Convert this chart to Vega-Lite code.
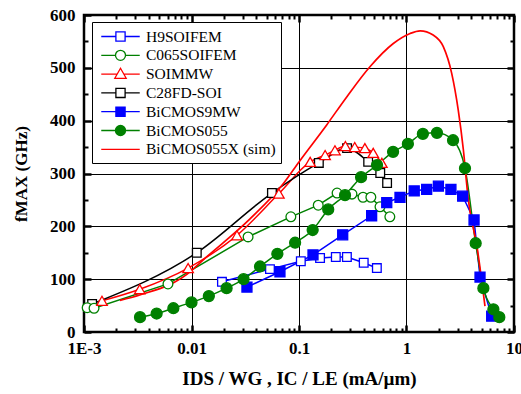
{
  "$schema": "https://vega.github.io/schema/vega-lite/v6.json",
  "width": 430,
  "height": 317,
  "autosize": {"type": "none"},
  "padding": {"left": 84, "top": 15, "right": 7, "bottom": 62},
  "background": "white",
  "config": {
    "view": {"stroke": "black", "strokeWidth": 2.5},
    "axis": {
      "labelFont": "Liberation Serif", "labelFontWeight": "bold", "labelFontSize": 17, "labelColor": "black",
      "titleFont": "Liberation Serif", "titleFontWeight": "bold", "titleColor": "black",
      "tickColor": "black", "gridColor": "black", "domain": false
    }
  },
  "datasets": {
    "pts": [
      {"series": "H9SOIFEM", "x": 0.0192, "y": 95},
      {"series": "H9SOIFEM", "x": 0.0537, "y": 119},
      {"series": "H9SOIFEM", "x": 0.104, "y": 134},
      {"series": "H9SOIFEM", "x": 0.157, "y": 140},
      {"series": "H9SOIFEM", "x": 0.22, "y": 142},
      {"series": "H9SOIFEM", "x": 0.279, "y": 142},
      {"series": "H9SOIFEM", "x": 0.40, "y": 131},
      {"series": "H9SOIFEM", "x": 0.53, "y": 121},
      {"series": "C065SOIFEM", "x": 0.00107, "y": 46},
      {"series": "C065SOIFEM", "x": 0.00124, "y": 45},
      {"series": "C065SOIFEM", "x": 0.00604, "y": 91},
      {"series": "C065SOIFEM", "x": 0.0336, "y": 180},
      {"series": "C065SOIFEM", "x": 0.084, "y": 218},
      {"series": "C065SOIFEM", "x": 0.151, "y": 240},
      {"series": "C065SOIFEM", "x": 0.226, "y": 263},
      {"series": "C065SOIFEM", "x": 0.311, "y": 261},
      {"series": "C065SOIFEM", "x": 0.394, "y": 255},
      {"series": "C065SOIFEM", "x": 0.466, "y": 255},
      {"series": "C065SOIFEM", "x": 0.567, "y": 237},
      {"series": "C065SOIFEM", "x": 0.70, "y": 218},
      {"series": "SOIMMW", "x": 0.00147, "y": 59},
      {"series": "SOIMMW", "x": 0.0033, "y": 81},
      {"series": "SOIMMW", "x": 0.0093, "y": 121},
      {"series": "SOIMMW", "x": 0.0265, "y": 183},
      {"series": "SOIMMW", "x": 0.065, "y": 262},
      {"series": "SOIMMW", "x": 0.127, "y": 322},
      {"series": "SOIMMW", "x": 0.175, "y": 335},
      {"series": "SOIMMW", "x": 0.216, "y": 344},
      {"series": "SOIMMW", "x": 0.27, "y": 352},
      {"series": "SOIMMW", "x": 0.33, "y": 350},
      {"series": "SOIMMW", "x": 0.41, "y": 348},
      {"series": "SOIMMW", "x": 0.49, "y": 339},
      {"series": "SOIMMW", "x": 0.59, "y": 320},
      {"series": "C28FD-SOI", "x": 0.00119, "y": 53},
      {"series": "C28FD-SOI", "x": 0.0112, "y": 150},
      {"series": "C28FD-SOI", "x": 0.056, "y": 263},
      {"series": "C28FD-SOI", "x": 0.153, "y": 320},
      {"series": "C28FD-SOI", "x": 0.28, "y": 348},
      {"series": "C28FD-SOI", "x": 0.44, "y": 322},
      {"series": "C28FD-SOI", "x": 0.57, "y": 301},
      {"series": "C28FD-SOI", "x": 0.66, "y": 282},
      {"series": "BiCMOS9MW", "x": 0.0328, "y": 85},
      {"series": "BiCMOS9MW", "x": 0.0665, "y": 114},
      {"series": "BiCMOS9MW", "x": 0.135, "y": 146},
      {"series": "BiCMOS9MW", "x": 0.255, "y": 184},
      {"series": "BiCMOS9MW", "x": 0.474, "y": 220},
      {"series": "BiCMOS9MW", "x": 0.655, "y": 245},
      {"series": "BiCMOS9MW", "x": 0.87, "y": 255},
      {"series": "BiCMOS9MW", "x": 1.18, "y": 267},
      {"series": "BiCMOS9MW", "x": 1.54, "y": 270},
      {"series": "BiCMOS9MW", "x": 1.98, "y": 276},
      {"series": "BiCMOS9MW", "x": 2.59, "y": 270},
      {"series": "BiCMOS9MW", "x": 3.33, "y": 257},
      {"series": "BiCMOS9MW", "x": 4.25, "y": 212},
      {"series": "BiCMOS9MW", "x": 4.83, "y": 104},
      {"series": "BiCMOS9MW", "x": 6.2, "y": 30},
      {"series": "BiCMOS055", "x": 0.00332, "y": 28},
      {"series": "BiCMOS055", "x": 0.00474, "y": 35},
      {"series": "BiCMOS055", "x": 0.00678, "y": 45},
      {"series": "BiCMOS055", "x": 0.0100, "y": 56},
      {"series": "BiCMOS055", "x": 0.0145, "y": 68},
      {"series": "BiCMOS055", "x": 0.0212, "y": 83},
      {"series": "BiCMOS055", "x": 0.0305, "y": 100},
      {"series": "BiCMOS055", "x": 0.0434, "y": 124},
      {"series": "BiCMOS055", "x": 0.0629, "y": 148},
      {"series": "BiCMOS055", "x": 0.092, "y": 169},
      {"series": "BiCMOS055", "x": 0.134, "y": 193},
      {"series": "BiCMOS055", "x": 0.187, "y": 232},
      {"series": "BiCMOS055", "x": 0.268, "y": 259},
      {"series": "BiCMOS055", "x": 0.378, "y": 293},
      {"series": "BiCMOS055", "x": 0.532, "y": 316},
      {"series": "BiCMOS055", "x": 0.75, "y": 341},
      {"series": "BiCMOS055", "x": 1.03, "y": 356},
      {"series": "BiCMOS055", "x": 1.42, "y": 375},
      {"series": "BiCMOS055", "x": 1.92, "y": 377},
      {"series": "BiCMOS055", "x": 2.71, "y": 363},
      {"series": "BiCMOS055", "x": 3.5, "y": 310},
      {"series": "BiCMOS055", "x": 4.4, "y": 168},
      {"series": "BiCMOS055", "x": 5.19, "y": 83},
      {"series": "BiCMOS055", "x": 6.43, "y": 43},
      {"series": "BiCMOS055", "x": 7.3, "y": 28}
    ],
    "sim": [
      {"series": "BiCMOS055X (sim)", "x": 0.00216, "y": 60},
      {"series": "BiCMOS055X (sim)", "x": 0.0033, "y": 70},
      {"series": "BiCMOS055X (sim)", "x": 0.01, "y": 116},
      {"series": "BiCMOS055X (sim)", "x": 0.012, "y": 131},
      {"series": "BiCMOS055X (sim)", "x": 0.035, "y": 214},
      {"series": "BiCMOS055X (sim)", "x": 0.071, "y": 280},
      {"series": "BiCMOS055X (sim)", "x": 0.1, "y": 322},
      {"series": "BiCMOS055X (sim)", "x": 0.181, "y": 392},
      {"series": "BiCMOS055X (sim)", "x": 0.278, "y": 445},
      {"series": "BiCMOS055X (sim)", "x": 0.457, "y": 502},
      {"series": "BiCMOS055X (sim)", "x": 0.754, "y": 546},
      {"series": "BiCMOS055X (sim)", "x": 1.08, "y": 565},
      {"series": "BiCMOS055X (sim)", "x": 1.34, "y": 570},
      {"series": "BiCMOS055X (sim)", "x": 1.77, "y": 562},
      {"series": "BiCMOS055X (sim)", "x": 2.2, "y": 540},
      {"series": "BiCMOS055X (sim)", "x": 2.63, "y": 490},
      {"series": "BiCMOS055X (sim)", "x": 3.03, "y": 420},
      {"series": "BiCMOS055X (sim)", "x": 3.38, "y": 345},
      {"series": "BiCMOS055X (sim)", "x": 3.76, "y": 250},
      {"series": "BiCMOS055X (sim)", "x": 4.53, "y": 161},
      {"series": "BiCMOS055X (sim)", "x": 5.37, "y": 49}
    ]
  },
  "resolve": {"axis": {"x": "independent", "y": "independent"}},
  "layer": [
    {
      "data": {"name": "pts"},
      "transform": [{"filter": "datum.series === 'H9SOIFEM' || datum.series === 'C065SOIFEM' || datum.series === 'BiCMOS9MW'"}],
      "mark": {"type": "line", "strokeWidth": 1.5},
      "encoding": {
        "x": {
          "field": "x", "type": "quantitative",
          "scale": {"type": "log", "domain": [0.001, 10], "nice": false},
          "axis": {
            "orient": "bottom",
            "values": [0.001, 0.002, 0.003, 0.004, 0.005, 0.006, 0.007, 0.008, 0.009, 0.01, 0.02, 0.03, 0.04, 0.05, 0.06, 0.07, 0.08, 0.09, 0.1, 0.2, 0.3, 0.4, 0.5, 0.6, 0.7, 0.8, 0.9, 1, 2, 3, 4, 5, 6, 7, 8, 9, 10],
            "labelExpr": "datum.value === 0.001 ? '1E-3' : datum.value === 0.01 ? '0.01' : datum.value === 0.1 ? '0.1' : datum.value === 1 ? '1' : datum.value === 10 ? '10' : ''",
            "labelFlush": false, "labelOverlap": false, "labelPadding": 15,
            "tickSize": {"condition": {"test": "datum.value === 0.001 || datum.value === 0.01 || datum.value === 0.1 || datum.value === 1 || datum.value === 10", "value": -7}, "value": -4},
            "tickWidth": {"condition": {"test": "datum.value === 0.001 || datum.value === 0.01 || datum.value === 0.1 || datum.value === 1 || datum.value === 10", "value": 2.5}, "value": 2},
            "grid": true, "gridWidth": 1,
            "gridOpacity": {"condition": {"test": "datum.value === 0.01 || datum.value === 0.1 || datum.value === 1", "value": 1}, "value": 0},
            "title": "IDS / WG , IC / LE (mA/µm)", "titleFontSize": 19, "titlePadding": 10
          }
        },
        "y": {
          "field": "y", "type": "quantitative",
          "scale": {"domain": [0, 600], "nice": false},
          "axis": {
            "orient": "left",
            "values": [0, 50, 100, 150, 200, 250, 300, 350, 400, 450, 500, 550, 600],
            "labelExpr": "datum.value % 100 === 0 ? format(datum.value, 'd') : ''",
            "labelOverlap": false, "labelPadding": 16,
            "tickSize": {"condition": {"test": "datum.value % 100 === 0", "value": -7}, "value": -4},
            "tickWidth": {"condition": {"test": "datum.value % 100 === 0", "value": 2.5}, "value": 2},
            "grid": true, "gridWidth": 1,
            "gridOpacity": {"condition": {"test": "datum.value % 100 === 0 && datum.value > 0 && datum.value < 600", "value": 1}, "value": 0},
            "title": "fMAX (GHz)", "titleFontSize": 17, "titlePadding": 19
          }
        },
        "color": {
          "field": "series", "type": "nominal",
          "scale": {
            "domain": ["H9SOIFEM", "C065SOIFEM", "SOIMMW", "C28FD-SOI", "BiCMOS9MW", "BiCMOS055", "BiCMOS055X (sim)"],
            "range": ["#0000ff", "#008000", "#ff0000", "#000000", "#0000ff", "#008000", "#ff0000"]
          },
          "legend": {
            "title": null,
            "orient": "none", "legendX": 8, "legendY": 7,
            "strokeColor": "black", "fillColor": "white", "padding": 5,
            "labelFont": "Liberation Serif", "labelFontSize": 15.5, "labelColor": "black",
            "symbolSize": 280, "symbolOffset": 14, "labelOffset": 16, "rowPadding": 0.8,
            "symbolStrokeWidth": 1.3,
            "encode": {
              "symbols": {
                "update": {
                  "shape": [
                    {"test": "datum.value === 'H9SOIFEM' || datum.value === 'C28FD-SOI' || datum.value === 'BiCMOS9MW'", "value": "M-2.3,0H-0.55M0.55,0H2.3M-0.55,-0.55H0.55V0.55H-0.55Z"},
                    {"test": "datum.value === 'C065SOIFEM' || datum.value === 'BiCMOS055'", "value": "M-2.3,0H-0.6M0.6,0H2.3M-0.6,0A0.6,0.6,0,1,0,0.6,0A0.6,0.6,0,1,0,-0.6,0Z"},
                    {"test": "datum.value === 'SOIMMW'", "value": "M-2.3,0H-0.45M0.45,0H2.3M0,-0.7L0.68,0.5H-0.68Z"},
                    {"value": "M-2.3,0H2.3"}
                  ],
                  "fill": [
                    {"test": "datum.value === 'BiCMOS9MW'", "value": "#0000ff"},
                    {"test": "datum.value === 'BiCMOS055'", "value": "#008000"},
                    {"value": "white"}
                  ],
                  "size": {"value": 280},
                  "strokeWidth": {"value": 1.3},
                  "opacity": {"value": 1}
                }
              }
            }
          }
        }
      }
    },
    {
      "data": {"name": "pts"},
      "transform": [{"filter": "datum.series === 'SOIMMW' || datum.series === 'C28FD-SOI' || datum.series === 'BiCMOS055'"}],
      "mark": {"type": "line", "strokeWidth": 1.5, "interpolate": "monotone"},
      "encoding": {
        "x": {"field": "x", "type": "quantitative", "scale": {"type": "log", "domain": [0.001, 10], "nice": false}, "axis": null},
        "y": {"field": "y", "type": "quantitative", "scale": {"domain": [0, 600], "nice": false}, "axis": null},
        "color": {"field": "series", "type": "nominal"}
      }
    },
    {
      "data": {"name": "sim"},
      "mark": {"type": "line", "strokeWidth": 1.7, "interpolate": "monotone"},
      "encoding": {
        "x": {"field": "x", "type": "quantitative", "scale": {"type": "log", "domain": [0.001, 10], "nice": false}, "axis": null},
        "y": {"field": "y", "type": "quantitative", "scale": {"domain": [0, 600], "nice": false}, "axis": null},
        "color": {"field": "series", "type": "nominal"}
      }
    },
    {
      "data": {"name": "pts"},
      "transform": [{"filter": "datum.series === 'H9SOIFEM' || datum.series === 'C28FD-SOI'"}],
      "mark": {"type": "point", "shape": "square", "filled": false, "fill": "white", "size": 75, "strokeWidth": 1.3, "opacity": 1},
      "encoding": {
        "x": {
          "field": "x", "type": "quantitative",
          "scale": {"type": "log", "domain": [0.001, 10], "nice": false},
          "axis": {
            "orient": "top",
            "values": [0.001, 0.002, 0.003, 0.004, 0.005, 0.006, 0.007, 0.008, 0.009, 0.01, 0.02, 0.03, 0.04, 0.05, 0.06, 0.07, 0.08, 0.09, 0.1, 0.2, 0.3, 0.4, 0.5, 0.6, 0.7, 0.8, 0.9, 1, 2, 3, 4, 5, 6, 7, 8, 9, 10],
            "labels": false, "grid": false, "title": null,
            "tickSize": {"condition": {"test": "datum.value === 0.001 || datum.value === 0.01 || datum.value === 0.1 || datum.value === 1 || datum.value === 10", "value": -7}, "value": -4},
            "tickWidth": {"condition": {"test": "datum.value === 0.001 || datum.value === 0.01 || datum.value === 0.1 || datum.value === 1 || datum.value === 10", "value": 2.5}, "value": 2}
          }
        },
        "y": {
          "field": "y", "type": "quantitative",
          "scale": {"domain": [0, 600], "nice": false},
          "axis": {
            "orient": "right",
            "values": [0, 50, 100, 150, 200, 250, 300, 350, 400, 450, 500, 550, 600],
            "labels": false, "grid": false, "title": null,
            "tickSize": {"condition": {"test": "datum.value % 100 === 0", "value": -7}, "value": -4},
            "tickWidth": {"condition": {"test": "datum.value % 100 === 0", "value": 2.5}, "value": 2}
          }
        },
        "color": {"field": "series", "type": "nominal"}
      }
    },
    {
      "data": {"name": "pts"},
      "transform": [{"filter": "datum.series === 'C065SOIFEM'"}],
      "mark": {"type": "point", "shape": "circle", "filled": false, "fill": "white", "size": 95, "strokeWidth": 1.3, "opacity": 1},
      "encoding": {
        "x": {"field": "x", "type": "quantitative", "scale": {"type": "log", "domain": [0.001, 10], "nice": false}, "axis": null},
        "y": {"field": "y", "type": "quantitative", "scale": {"domain": [0, 600], "nice": false}, "axis": null},
        "color": {"field": "series", "type": "nominal"}
      }
    },
    {
      "data": {"name": "pts"},
      "transform": [{"filter": "datum.series === 'SOIMMW'"}],
      "mark": {"type": "point", "shape": "triangle-up", "filled": false, "fill": "white", "size": 110, "strokeWidth": 1.3, "opacity": 1},
      "encoding": {
        "x": {"field": "x", "type": "quantitative", "scale": {"type": "log", "domain": [0.001, 10], "nice": false}, "axis": null},
        "y": {"field": "y", "type": "quantitative", "scale": {"domain": [0, 600], "nice": false}, "axis": null},
        "color": {"field": "series", "type": "nominal"}
      }
    },
    {
      "data": {"name": "pts"},
      "transform": [{"filter": "datum.series === 'BiCMOS9MW'"}],
      "mark": {"type": "point", "shape": "square", "filled": false, "fill": "#0000ff", "size": 100, "strokeWidth": 1.3, "opacity": 1},
      "encoding": {
        "x": {"field": "x", "type": "quantitative", "scale": {"type": "log", "domain": [0.001, 10], "nice": false}, "axis": null},
        "y": {"field": "y", "type": "quantitative", "scale": {"domain": [0, 600], "nice": false}, "axis": null},
        "color": {"field": "series", "type": "nominal"}
      }
    },
    {
      "data": {"name": "pts"},
      "transform": [{"filter": "datum.series === 'BiCMOS055'"}],
      "mark": {"type": "point", "shape": "circle", "filled": false, "fill": "#008000", "size": 120, "strokeWidth": 1.3, "opacity": 1},
      "encoding": {
        "x": {"field": "x", "type": "quantitative", "scale": {"type": "log", "domain": [0.001, 10], "nice": false}, "axis": null},
        "y": {"field": "y", "type": "quantitative", "scale": {"domain": [0, 600], "nice": false}, "axis": null},
        "color": {"field": "series", "type": "nominal"}
      }
    }
  ]
}
